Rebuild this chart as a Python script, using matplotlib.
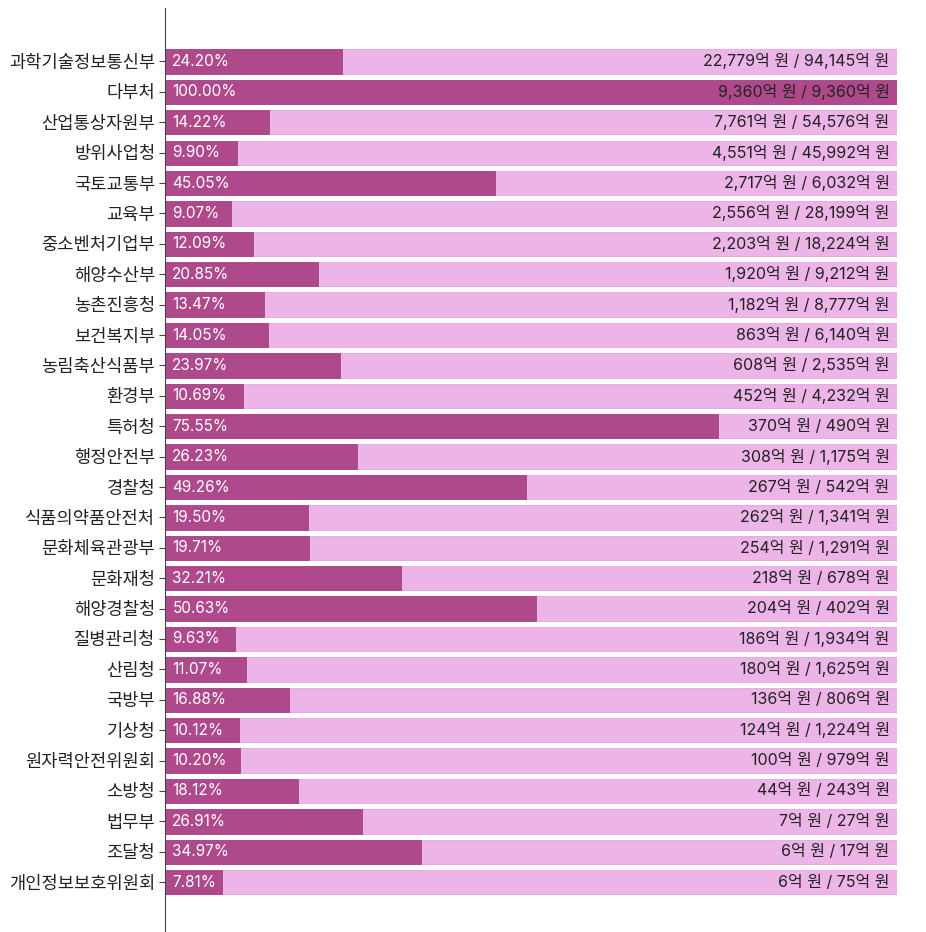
import matplotlib
matplotlib.use("Agg")
import matplotlib.pyplot as plt

plt.rcParams["font.family"] = ["Inter", "Noto Sans CJK KR", "DejaVu Sans"]

기관 = [
    "과학기술정보통신부", "다부처", "산업통상자원부", "방위사업청", "국토교통부", "교육부",
    "중소벤처기업부", "해양수산부", "농촌진흥청", "보건복지부", "농림축산식품부", "환경부",
    "특허청", "행정안전부", "경찰청", "식품의약품안전처", "문화체육관광부", "문화재청",
    "해양경찰청", "질병관리청", "산림청", "국방부", "기상청", "원자력안전위원회",
    "소방청", "법무부", "조달청", "개인정보보호위원회",
]
비율 = [
    24.20, 100.00, 14.22, 9.90, 45.05, 9.07, 12.09, 20.85, 13.47, 14.05, 23.97, 10.69,
    75.55, 26.23, 49.26, 19.50, 19.71, 32.21, 50.63, 9.63, 11.07, 16.88, 10.12, 10.20,
    18.12, 26.91, 34.97, 7.81,
]
금액 = [
    22779, 9360, 7761, 4551, 2717, 2556, 2203, 1920, 1182, 863, 608, 452,
    370, 308, 267, 262, 254, 218, 204, 186, 180, 136, 124, 100, 44, 7, 6, 6,
]
전체 = [
    94145, 9360, 54576, 45992, 6032, 28199, 18224, 9212, 8777, 6140, 2535, 4232,
    490, 1175, 542, 1341, 1291, 678, 402, 1934, 1625, 806, 1224, 979, 243, 27, 17, 75,
]

진한색 = "#ae4a8c"
연한색 = "#ecb4e7"

fig = plt.figure(figsize=(9.26, 9.32), dpi=100)
ax = fig.add_axes([165 / 926, 0, (897 - 165) / 926, 924 / 932])

y = list(range(len(기관)))
ax.barh(y, [1] * len(y), height=0.8, color=연한색, edgecolor="#e3a6dd", linewidth=0.6)
ax.barh(y, [p / 100 for p in 비율], height=0.8, color=진한색, edgecolor="#a8428a", linewidth=0.6)

for i in y:
    ax.text(0.01, i, f"{비율[i]:.2f}%", color="white", fontsize=11,
            va="center", ha="left")
    ax.text(0.99, i, f"{금액[i]:,}억 원 / {전체[i]:,}억 원", color="#222222",
            fontsize=11.5, va="center", ha="right")

ax.set_xlim(0, 1)
ax.set_ylim(len(기관) - 1 + 1.64, -1.76)
ax.set_yticks(y)
ax.set_yticklabels(기관, fontsize=12.7, color="#222222")
ax.tick_params(axis="y", length=4, color="#444444", pad=3)
ax.set_xticks([])
for s in ["top", "right", "bottom"]:
    ax.spines[s].set_visible(False)
ax.spines["left"].set_color("#444444")

fig.savefig("out.png", dpi=100)
